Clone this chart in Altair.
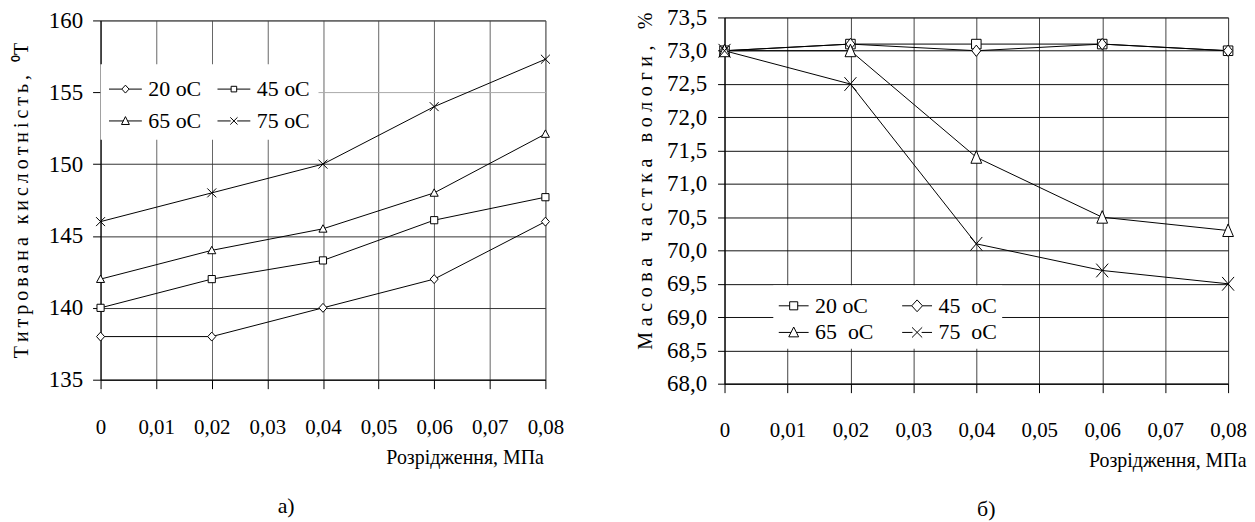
import altair as alt
import pandas as pd

# ---------------- data ----------------
pressure = [0, 0.02, 0.04, 0.06, 0.08]

a_series = ["20 oC", "45 oC", "65 oC", "75 oC"]
a_20 = [138, 138, 140, 142, 146]
a_45 = [140, 142, 143.3, 146.1, 147.7]
a_65 = [142, 144, 145.5, 148, 152.1]
a_75 = [146, 148, 150, 154, 157.3]

b_series = ["20 oC", "45\u00a0 oC", "65\u00a0 oC", "75\u00a0 oC"]
b_20 = [73.0, 73.1, 73.1, 73.1, 73.0]
b_45 = [73.0, 73.1, 73.0, 73.1, 73.0]
b_65 = [73.0, 73.0, 71.4, 70.5, 70.3]
b_75 = [73.0, 72.5, 70.1, 69.7, 69.5]

x_ticks = [0, 0.01, 0.02, 0.03, 0.04, 0.05, 0.06, 0.07, 0.08]
a_y_ticks = [135, 140, 145, 150, 155, 160]
b_y_ticks = [68.0, 68.5, 69.0, 69.5, 70.0, 70.5, 71.0, 71.5, 72.0, 72.5, 73.0, 73.5]

a_title_words = ["Титрована", "кислотність,", "⁰Т"]
b_title_words = ["Масова", "частка", "вологи,", "%"]
x_title = "Розрідження, МПа"
cap_a = "а)"
cap_b = "б)"

FONT = "Liberation Serif, serif"


def spaced(words, gap="\u2009"):
    out = []
    for w in words:
        if w.startswith("⁰"):
            out.append(w)
        else:
            out.append(gap.join(w))
    return (gap + " " + gap).join(out)


def long_df(series, cols):
    rows = []
    for k, (s, vals) in enumerate(zip(series, cols)):
        for x, v in zip(pressure, vals):
            rows.append({"series": s, "k": k, "x": x, "y": v})
    return pd.DataFrame(rows)


def pt_paths(kind_list, big=False):
    p = {
        "diamond": "M0,-1L0.9,0L0,1L-0.9,0Z" if not big else "M0,-0.95L0.75,0L0,0.95L-0.75,0Z",
        "square": "M-0.8,-0.8L0.8,-0.8L0.8,0.8L-0.8,0.8Z",
        "triangle": "M0,-0.9L0.9,0.75L-0.9,0.75Z" if not big else "M0,-1.1L0.9,1L-0.9,1Z",
        "x": "M-1,-1L1,1M-1,1L1,-1" if not big else "M-1,-1.15L1,1.15M-1,1.15L1,-1.15",
    }
    return [p[k] for k in kind_list]


def r(v):
    return f"{v:.3f}"


def leg_paths(kind_list, hs):
    out = []
    for k, h in zip(kind_list, hs):
        a, b = r(h), r(-h)
        if k == "diamond":
            out.append(f"M-1,0L{b},0M{a},0L1,0M0,{r(-h*1.1)}L{a},0L0,{r(h*1.1)}L{b},0Z")
        elif k == "square":
            out.append(f"M-1,0L{b},0M{a},0L1,0M{b},{b}L{a},{b}L{a},{a}L{b},{a}Z")
        elif k == "triangle":
            out.append(f"M-1,0L{r(-h*0.55)},0M{r(h*0.55)},0L1,0M0,{r(-h*1.1)}L{a},{r(h*0.9)}L{b},{r(h*0.9)}Z")
        else:
            out.append(f"M-1,0L{r(-h*0.9)},0M{r(h*0.9)},0L1,0M{b},{b}L{a},{a}M{b},{a}L{a},{b}")
    return out


def panel(df, series, kinds, big, msize, lhs, lsize, width, height, y_dom, y_ticks,
          y_label_expr, y_title, y_title_pad, y_label_pad, y_tick, y_title_y,
          x_label_pad, x_title_x, x_title_y, xgrid, ygrid, leg_x, leg_y, leg_pad,
          leg_colpad, leg_rowpad, leg_off, cap, cap_dx):
    xenc = alt.X(
        "x:Q",
        scale=alt.Scale(domain=[0, 0.08], nice=False, zero=False),
        axis=alt.Axis(
            values=x_ticks,
            labelExpr="datum.value == 0 ? '0' : replace(format(datum.value, '.2f'), '.', ',')",
            labelFont=FONT, labelFontSize=21, labelColor="black",
            labelPadding=x_label_pad, labelFlush=False, labelOverlap=False,
            tickSize=9, tickColor="black", tickWidth=1,
            domainColor="black", domainWidth=1,
            grid=True, gridColor=xgrid, gridWidth=1,
            title=x_title, titleFont=FONT, titleFontSize=20, titleFontWeight="normal",
            titleColor="black", titleX=x_title_x, titleY=x_title_y,
            titleAlign="right", titleBaseline="alphabetic",
        ),
    )
    yaxis = dict(
        values=y_ticks,
        labelExpr=y_label_expr,
        labelFont=FONT, labelFontSize=23, labelColor="black",
        labelPadding=y_label_pad, labelOverlap=False,
        tickSize=y_tick, tickColor="black", tickWidth=1,
        domainColor="black", domainWidth=1,
        grid=True, gridColor=ygrid, gridWidth=1,
        title=y_title, titleFont=FONT, titleFontSize=20, titleFontWeight="normal",
        titleColor="black", titlePadding=y_title_pad,
    )
    if y_title_y is not None:
        yaxis["titleY"] = y_title_y
    yenc = alt.Y(
        "y:Q",
        scale=alt.Scale(domain=y_dom, nice=False, zero=False),
        axis=alt.Axis(**yaxis),
    )
    base = alt.Chart(df).encode(x=xenc, y=yenc)
    lines = base.mark_line(color="black", strokeWidth=1).encode(
        detail="series:N", order="x:Q"
    )
    pts = base.mark_point(
        filled=True, fill="white", stroke="black", strokeWidth=1, size=msize, opacity=1
    ).encode(
        shape=alt.Shape("series:N", scale=alt.Scale(domain=series, range=pt_paths(kinds, big)),
                        legend=None),
        order="k:Q",
    )
    leg = base.transform_filter("false").mark_point(
        filled=False, stroke="black", color="black", strokeWidth=1, size=lsize
    ).encode(
        shape=alt.Shape(
            "series:N",
            scale=alt.Scale(domain=series, range=leg_paths(kinds, lhs)),
            legend=alt.Legend(
                title=None, orient="none", legendX=leg_x, legendY=leg_y,
                direction="horizontal",
                columns=2, columnPadding=leg_colpad, rowPadding=leg_rowpad,
                padding=leg_pad, fillColor="white",
                symbolSize=lsize, symbolStrokeWidth=1, symbolOpacity=1,
                symbolStrokeColor="black",
                labelFont=FONT, labelFontSize=22, labelColor="black",
                labelOffset=leg_off, labelLimit=0,
            ),
        )
    )
    return alt.layer(lines, pts, leg).resolve_scale(shape="independent").properties(
        width=width, height=height,
        title=alt.TitleParams(cap, orient="bottom", anchor="middle", dx=cap_dx, offset=29,
                              font=FONT, fontSize=22, fontWeight="normal", color="black"),
    )


df_a = long_df(a_series, [a_20, a_45, a_65, a_75])
df_b = long_df(b_series, [b_20, b_45, b_65, b_75])

left = panel(
    df_a, a_series, ["diamond", "square", "triangle", "x"], False, 81,
    [0.22, 0.17, 0.24, 0.22], 1089, 447, 361, [135, 160], a_y_ticks,
    "format(datum.value, 'd')", spaced(a_title_words), 17, 10, 8, None,
    28, 445, 84, "#666666",
    {"condition": {"test": "datum.value == 155", "value": "#aaaaaa"}, "value": "#333333"},
    0, 44, 8, 13, 4, 6, cap_a, -37,
)
right = panel(
    df_b, b_series, ["square", "diamond", "triangle", "x"], True, 144,
    [0.27, 0.36, 0.33, 0.34], 900, 506, 368, [68.0, 73.5], b_y_ticks,
    "replace(format(datum.value, '.1f'), '.', ',')",
    spaced(b_title_words, "\u2009\u200a"), 11, 11, 7, 164,
    27, 524, 83, "#444444", "#111111",
    49, 269, 5, 26, -1, 6, cap_b, 10,
)

text_style = {"font": FONT, "fill": "black"}

chart = alt.concat(left, right, columns=2, spacing=71, center=True).properties(
    padding={"left": 3, "top": -4, "right": 0, "bottom": 0},
    background="white",
).configure(
    font=FONT,
    style={"guide-label": text_style, "guide-title": text_style, "group-title": text_style},
).configure_axis(
    labelFont=FONT, titleFont=FONT
).configure_legend(
    labelFont=FONT
).configure_view(stroke="#808080", strokeWidth=1)

chart.save("out.html", embed_options={"renderer": "svg", "actions": False})
